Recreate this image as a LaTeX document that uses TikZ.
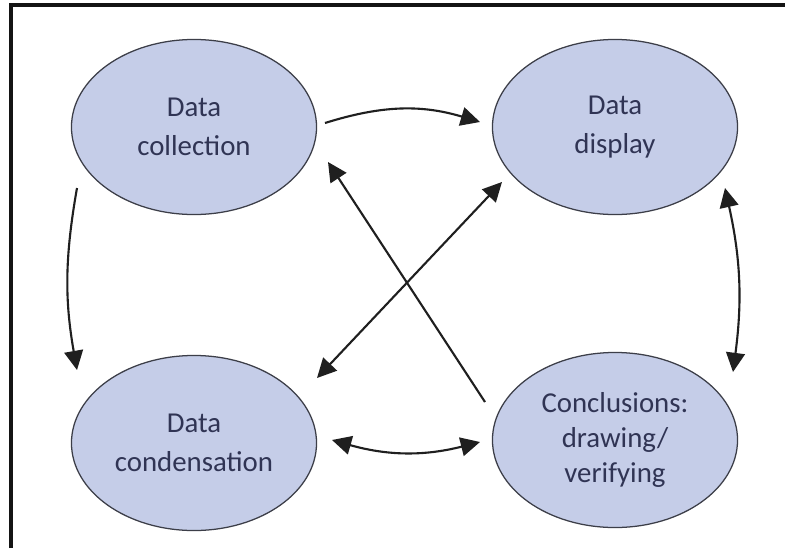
\documentclass[tikz,border=0pt]{standalone}
\usepackage{fontspec}
\setmainfont{Carlito}
\usetikzlibrary{shapes.geometric,arrows.meta}
\definecolor{lavender}{RGB}{197, 205, 232}
\definecolor{slate}{RGB}{48, 52, 84}
\definecolor{rim}{RGB}{60, 62, 72}
\tikzset{
  phase/.style={ellipse, draw=rim, line width=0.9pt, fill=lavender, text=slate,
    minimum width=6.125cm, minimum height=4.375cm, inner sep=0pt, align=center,
    font=\fontsize{20.5}{28}\selectfont},
  flow/.style={line width=1.5pt, color=black!88,
    arrows={-Triangle[length=0.48cm, width=0.47cm]}},
  flows/.style={flow, arrows={Triangle[length=0.48cm, width=0.47cm]-Triangle[length=0.48cm, width=0.47cm]}}
}
\begin{document}
\begin{tikzpicture}[x=0.025cm, y=0.025cm]
            % Page and frame
            \useasboundingbox (0,0) rectangle (785,-548);
            \fill[white] (0,0) rectangle (785,-548);
            \draw[line width=2.2pt, color=black!92] (11,-548) -- (11,-5) -- (785,-5);
            % Phases
            \node[phase] (coll)  at (194,-127) {Data\\collection};
            \node[phase] (disp)  at (615,-127) {Data\\display};
            \node[phase] (cond)  at (194,-443) {Data\\condensation};
            \node[phase, font=\fontsize{20.5}{25}\selectfont] (concl) at (615,-440) {Conclusions:\\drawing/\\verifying};
            % Outer loop
            \draw[flow]  ([shift={(131,4)}]coll.center) to[bend left=17] ([shift={(-135,5)}]disp.center);
            \draw[flow]  ([shift={(-117,-61)}]coll.center) to[bend right=10] ([shift={(-117,73)}]cond.center);
            \draw[flows] ([shift={(110,-61)}]disp.center) to[bend left=10] ([shift={(118,68)}]concl.center);
            \draw[flows] ([shift={(138,3)}]cond.center) to[bend right=15] ([shift={(-135,-2)}]concl.center);
            % Diagonals
            \draw[flow]  ([shift={(-130,38)}]concl.center) -- ([shift={(134,-35)}]coll.center);
            \draw[flows] ([shift={(123,65)}]cond.center) -- ([shift={(-113,-55)}]disp.center);
        \end{tikzpicture}
\end{document}
